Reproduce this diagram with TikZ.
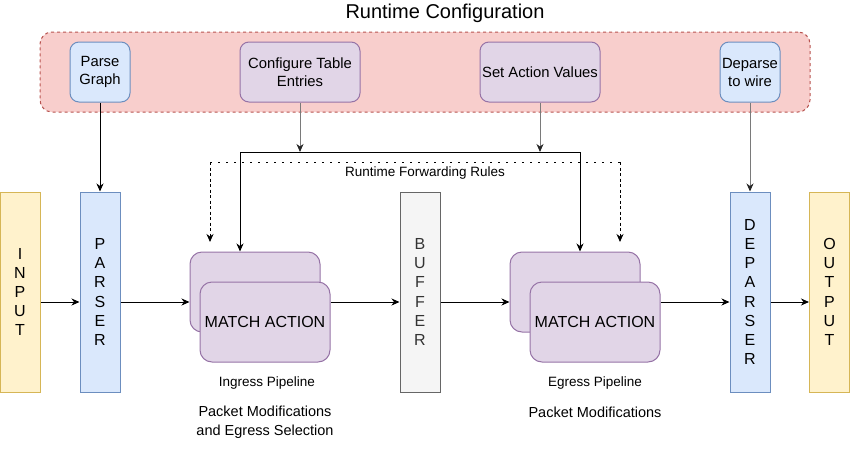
\documentclass[tikz,border=0pt]{standalone}
\usepackage{fontspec}
\setmainfont{Liberation Sans}
\usetikzlibrary{arrows.meta}
\definecolor{redfill}{HTML}{F8CECC}
\definecolor{redline}{HTML}{B85450}
\definecolor{bluefill}{HTML}{DAE8FC}
\definecolor{blueline}{HTML}{6C8EBF}
\definecolor{purpfill}{HTML}{E1D5E7}
\definecolor{purpline}{HTML}{9673A6}
\definecolor{yelfill}{HTML}{FFF2CC}
\definecolor{yelline}{HTML}{D6B656}
\definecolor{grayfill}{HTML}{F5F5F5}
\definecolor{grayline}{HTML}{666666}
\definecolor{garrow}{HTML}{7A7A7A}
\tikzset{
  box/.style={draw, line width=1pt, inner sep=0pt, align=center, rounded corners=#1},
  box/.default=9pt,
  cfgbox/.style={box, fill=purpfill, draw=purpline, minimum width=120pt, minimum height=60pt, font=\fontsize{14.8}{18}\selectfont},
  bluebox/.style={box, fill=bluefill, draw=blueline, minimum width=60pt, minimum height=60pt, font=\fontsize{14.8}{18}\selectfont},
  tallbox/.style={draw, line width=1pt, inner sep=0pt, align=center, minimum width=40pt, minimum height=200pt, font=\fontsize{16}{19.2}\selectfont},
  mabox/.style={box=12pt, fill=purpfill, draw=purpline, minimum width=130pt, minimum height=80pt, font=\fontsize{16}{19}\selectfont},
  lbl/.style={inner sep=0pt, align=center},
  arr/.style={line width=1pt, -{Stealth[length=8pt,width=7pt,inset=2.5pt]}},
  garr/.style={arr, draw=garrow, -{Stealth[length=8pt,width=7pt,inset=2.5pt,color=black!85]}},
  dotarr/.style={arr, dash pattern=on 3pt off 2.5pt},
}
\begin{document}
\begin{tikzpicture}[x=1pt,y=-1pt]
\useasboundingbox (0,0) rectangle (851,453);
% title
\node[lbl, font=\fontsize{20}{24}\selectfont] (title) at (445,13) {Runtime Configuration};
% runtime configuration panel
\node[box=12pt, fill=redfill, draw=redline, dashed, dash pattern=on 3pt off 3pt, minimum width=770pt, minimum height=80pt] (panel) at (425,72) {};
\node[bluebox] (pg) at (100,72) {Parse\\Graph};
\node[cfgbox] (cte) at (300,72) {Configure Table\\Entries};
\node[cfgbox] (sav) at (540,72) {Set Action Values};
\node[bluebox] (dtw) at (750,72) {Deparse\\to wire};
% pipeline blocks
\node[tallbox, fill=yelfill, draw=yelline] (input) at (20,292) {I\\N\\P\\U\\T};
\node[tallbox, fill=bluefill, draw=blueline] (parser) at (100,292) {P\\A\\R\\S\\E\\R};
\node[tallbox, fill=grayfill, draw=grayline, text=black!80] (buffer) at (420,292) {B\\U\\F\\F\\E\\R};
\node[tallbox, fill=bluefill, draw=blueline] (deparser) at (750,292) {D\\E\\P\\A\\R\\S\\E\\R};
\node[tallbox, fill=yelfill, draw=yelline] (output) at (829.5,292) {O\\U\\T\\P\\U\\T};
% match action stacks
\node[mabox] (ma1b) at (255,292) {};
\node[mabox] (ma1f) at (265,322) {MATCH ACTION};
\node[mabox] (ma2b) at (575,292) {};
\node[mabox] (ma2f) at (595,322) {MATCH ACTION};
% captions
\node[lbl, font=\fontsize{13.5}{16}\selectfont] (ingl) at (267,383) {Ingress Pipeline};
\node[lbl, font=\fontsize{14.5}{19}\selectfont] (ingm) at (265,422) {Packet Modifications\\and Egress Selection};
\node[lbl, font=\fontsize{13.5}{16}\selectfont] (egl) at (595,383) {Egress Pipeline};
\node[lbl, font=\fontsize{14.5}{19}\selectfont] (egm) at (595,412) {Packet Modifications};
% main data path
\coordinate (row) at (0,302);
\draw[arr] (input.east |- row) -- (parser.west |- row);
\draw[arr] (parser.east |- row) -- (ma1b.west |- row);
\draw[arr] (ma1f.east |- row) -- (buffer.west |- row);
\draw[arr] (buffer.east |- row) -- (ma2b.west |- row);
\draw[arr] (ma2f.east |- row) -- (deparser.west |- row);
\draw[arr] (deparser.east |- row) -- (output.west |- row);
% configuration arrows
\draw[arr] (pg.south) -- (parser.north);
\draw[garr] (dtw.south) -- (deparser.north);
\coordinate (sL) at (240,152);
\coordinate (sR) at (580,152);
\draw[line width=1pt] (sL) -- (sR);
\draw[arr] (sL) -- (sL |- ma1b.north);
\draw[arr] (sR) -- (sR |- ma2b.north);
\draw[garr] (cte.south) -- (cte.south |- sL);
\draw[garr] (sav.south) -- (sav.south |- sL);
% runtime forwarding rules
\coordinate (dL) at (210,162);
\coordinate (dR) at (620,162);
\coordinate (dLe) at (210,242);
\coordinate (dRe) at (620,242);
\draw[line width=1pt, dash pattern=on 1.5pt off 6.5pt] (dL) -- (dR);
\draw[dotarr] (dL) -- (dLe);
\draw[dotarr] (dR) -- (dRe);
\node[lbl, font=\fontsize{13.5}{16}\selectfont] (rfr) at (425,173) {Runtime Forwarding Rules};
\end{tikzpicture}
\end{document}
